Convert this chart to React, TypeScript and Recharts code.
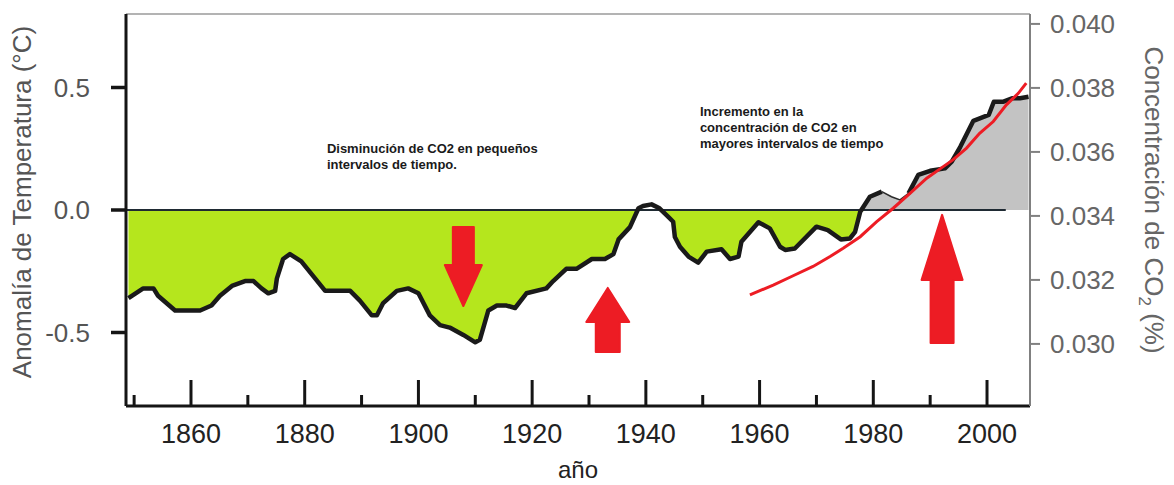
import React from 'react';
import { ComposedChart, Area, Line, XAxis, YAxis, ReferenceLine, ReferenceDot } from 'recharts';

// temperature anomaly curve (°C)
const tempYears = [
  1849.0, 1851.6, 1853.4, 1854.2, 1857.2, 1861.6, 1863.6, 1865.1, 1867.2, 1869.5,
  1871.0, 1872.4, 1873.6, 1874.8, 1875.1, 1876.2, 1877.4, 1879.4, 1881.5, 1883.6,
  1888.0, 1889.7, 1891.8, 1892.7, 1893.8, 1896.2, 1898.2, 1900.0, 1902.0, 1903.8,
  1905.5, 1907.9, 1910.0, 1910.8, 1912.3, 1913.8, 1915.5, 1917.0, 1919.0, 1922.5,
  1923.7, 1926.0, 1927.8, 1930.5, 1932.8, 1934.3, 1935.2, 1937.2, 1938.7, 1939.5,
  1941.0, 1942.4, 1943.9, 1944.8, 1945.1, 1946.0, 1947.5, 1949.2, 1950.7, 1953.3,
  1954.8, 1956.3, 1956.8, 1959.8, 1961.8, 1963.6, 1964.5, 1966.2, 1970.0, 1972.0,
  1974.3, 1975.9, 1976.8, 1977.7, 1979.4, 1981.5, 1983.2, 1984.7, 1986.2, 1987.9,
  1990.0, 1992.6, 1993.8, 1995.3, 1997.6, 2000.3, 2001.2, 2002.9, 2004.4, 2005.8,
  2007.3,
];
const tempValues = [
  -0.36, -0.32, -0.32, -0.35, -0.41, -0.41, -0.39, -0.35, -0.31, -0.29,
  -0.29, -0.32, -0.34, -0.33, -0.28, -0.2, -0.18, -0.21, -0.27, -0.33,
  -0.33, -0.37, -0.43, -0.43, -0.38, -0.33, -0.32, -0.34, -0.43, -0.47,
  -0.48, -0.51, -0.54, -0.53, -0.41, -0.39, -0.39, -0.4, -0.34, -0.32,
  -0.29, -0.24, -0.24, -0.2, -0.2, -0.18, -0.12, -0.07, 0.007, 0.016,
  0.023, 0.007, -0.027, -0.048, -0.11, -0.15, -0.19, -0.215, -0.17, -0.16,
  -0.2, -0.19, -0.13, -0.05, -0.075, -0.15, -0.163, -0.157, -0.068, -0.082,
  -0.12, -0.116, -0.089, -0.007, 0.054, 0.075, 0.054, 0.041, 0.068, 0.143,
  0.16, 0.17, 0.197, 0.258, 0.364, 0.388, 0.442, 0.442, 0.456, 0.456,
  0.462,
];

// CO2 concentration (%)
const co2Years = [
  1958.3, 1962.4, 1965.9, 1969.4, 1972.4, 1974.7, 1977.7, 1980.6, 1983.5, 1986.5,
  1989.4, 1992.3, 1994.0, 1996.4, 1998.7, 2001.1, 2003.4, 2005.5, 2006.9,
];
const co2Values = [
  0.03153, 0.03184, 0.03213, 0.03242, 0.03273, 0.03299, 0.03335, 0.03382, 0.03424, 0.03471,
  0.03518, 0.03554, 0.03575, 0.03612, 0.03658, 0.03695, 0.03747, 0.03783, 0.03815,
];

const yearTicks = [1850, 1860, 1870, 1880, 1890, 1900, 1910, 1920, 1930, 1940, 1950, 1960, 1970, 1980, 1990, 2000];
const tempTicks = [-0.5, 0, 0.5];
const co2Ticks = [0.03, 0.032, 0.034, 0.036, 0.038, 0.04];

// red arrows: tip position (year, anomaly) and direction
const arrowYears = [1907.9, 1933.3, 1992.1];
const arrowValues = [-0.392, -0.318, -0.02];
const arrowDirs = ['down', 'up', 'up'];

const noteYears = [1883.9, 1949.5];
const noteValues = [0.233, 0.384];
const noteLines = [
  ['Disminución de CO2 en pequeños', 'intervalos de tiempo.'],
  ['Incremento en la', 'concentración de CO2 en', 'mayores intervalos de tiempo'],
];

const FONT = '"Liberation Sans", Arial, sans-serif';
const RED = '#ed1c24';

// the curve is drawn thin between these years in the original
const thinFrom = 1981.5;
const thinTo = 1986.2;

const tempData = tempYears.map((year, i) => ({
  year,
  t: tempValues[i],
  thick: year > thinFrom && year < thinTo ? null : tempValues[i],
  neg: Math.min(tempValues[i], 0),
  pos: Math.max(tempValues[i], 0),
}));
const warmData = tempData.filter((d) => d.year >= 1977.7);
const thinData = tempData.filter((d) => d.year >= thinFrom && d.year <= thinTo);
const co2Data = co2Years.map((year, i) => ({ year, c: co2Values[i] }));

// sizes in px for each arrow: [length, head length, head width, shaft width]
const arrowSizes = [
  [79, 41, 37, 21],
  [64, 34, 43, 24],
  [128, 65, 41, 23],
];

const makeArrow = (i: number) => (props: any) => {
  const { cx, cy } = props;
  const [len, head, hw, sw] = arrowSizes[i];
  const s = arrowDirs[i] === 'down' ? -1 : 1;
  const pts = [
    [cx, cy],
    [cx + hw / 2, cy + s * head],
    [cx + sw / 2, cy + s * head],
    [cx + sw / 2, cy + s * len],
    [cx - sw / 2, cy + s * len],
    [cx - sw / 2, cy + s * head],
    [cx - hw / 2, cy + s * head],
  ];
  return (
    <polygon
      points={pts.map((p) => p.join(',')).join(' ')}
      fill={RED}
      stroke={RED}
      strokeWidth={2}
      strokeLinejoin="round"
    />
  );
};

const makeNote = (i: number) => (props: any) => {
  const { cx, cy } = props;
  return (
    <text x={cx} y={cy} fontFamily={FONT} fontSize={13} fontWeight="bold" fill="#1a1a1a">
      {noteLines[i].map((line, j) => (
        <tspan key={j} x={cx} dy={j === 0 ? 0 : 16}>
          {line}
        </tspan>
      ))}
    </text>
  );
};

const YearTick = (props: any) => {
  const { x, y, payload } = props;
  const v = payload.value;
  const major = v % 20 === 0;
  return (
    <g>
      <line x1={x} x2={x} y1={y} y2={y - (major ? 26 : 11)} stroke="#151515" strokeWidth={3} />
      {major && (
        <text x={x} y={y + 37} textAnchor="middle" fontFamily={FONT} fontSize={27} fill="#222">
          {v}
        </text>
      )}
    </g>
  );
};

const LeftTitle = (props: any) => {
  const { viewBox } = props;
  const x = viewBox.x + 31;
  const y = viewBox.y + viewBox.height / 2 - 8;
  return (
    <text x={x} y={y} transform={`rotate(-90, ${x}, ${y})`} textAnchor="middle" fontFamily={FONT} fontSize={26} fill="#555">
      Anomalía de Temperatura (°C)
    </text>
  );
};

const RightTitle = (props: any) => {
  const { viewBox } = props;
  const x = viewBox.x + 115;
  const y = viewBox.y + viewBox.height / 2 - 10;
  return (
    <text x={x} y={y} transform={`rotate(90, ${x}, ${y})`} textAnchor="middle" fontFamily={FONT} fontSize={26} fill="#666">
      Concentración de CO
      <tspan fontSize={17} dy={6}>2</tspan>
      <tspan dy={-6}> (%)</tspan>
    </text>
  );
};

const BottomTitle = (props: any) => {
  const { viewBox } = props;
  return (
    <text x={viewBox.x + 452} y={viewBox.y + 72} textAnchor="middle" fontFamily={FONT} fontSize={24} fill="#222">
      año
    </text>
  );
};

export default function App() {
  return (
    <div style={{ position: 'absolute', left: 0, top: 0, width: 1174, height: 485, background: '#fff' }}>
      <ComposedChart width={1174} height={485} margin={{ top: 14, right: 0, bottom: 0, left: 0 }}>
        <XAxis
          dataKey="year"
          type="number"
          domain={[1848.57, 2007.56]}
          allowDataOverflow
          ticks={yearTicks}
          interval={0}
          height={79}
          tickSize={0}
          tickMargin={0}
          tickLine={false}
          tick={<YearTick />}
          axisLine={{ stroke: '#151515', strokeWidth: 3 }}
          label={<BottomTitle />}
        />
        <YAxis
          yAxisId="t"
          domain={[-0.8, 0.8]}
          allowDataOverflow
          ticks={tempTicks}
          width={126}
          tickSize={15}
          tickMargin={21}
          tickFormatter={(v: number) => v.toFixed(1)}
          tick={{ fontFamily: FONT, fontSize: 26, fill: '#555' }}
          tickLine={{ stroke: '#151515', strokeWidth: 3.5 }}
          axisLine={{ stroke: '#151515', strokeWidth: 3 }}
          label={<LeftTitle />}
        />
        <YAxis
          yAxisId="c"
          orientation="right"
          domain={[0.02806, 0.04031]}
          allowDataOverflow
          ticks={co2Ticks}
          width={144}
          tickSize={10}
          tickMargin={10}
          tickFormatter={(v: number) => v.toFixed(3)}
          tick={{ fontFamily: FONT, fontSize: 26, fill: '#666', textAnchor: 'start' }}
          tickLine={{ stroke: '#808080', strokeWidth: 2 }}
          axisLine={{ stroke: '#808080', strokeWidth: 2 }}
          label={<RightTitle />}
        />
        <ReferenceLine yAxisId="t" y={0.8} stroke="#9a9a9a" strokeWidth={1.5} />
        <Area
          yAxisId="t"
          data={tempData}
          dataKey="neg"
          type="linear"
          baseValue={0}
          fill="#b5e61d"
          fillOpacity={1}
          stroke="none"
          isAnimationActive={false}
        />
        <Area
          yAxisId="t"
          data={warmData}
          dataKey="pos"
          type="linear"
          baseValue={0}
          fill="#c3c3c3"
          fillOpacity={1}
          stroke="none"
          isAnimationActive={false}
        />
        <ReferenceLine
          yAxisId="t"
          segment={[{ x: 1848.57, y: 0 }, { x: 2003.3, y: 0 }]}
          stroke="#1f2a33"
          strokeWidth={2}
        />
        <Line
          yAxisId="t"
          data={tempData}
          dataKey="thick"
          type="linear"
          stroke="#1a1a1a"
          strokeWidth={4.5}
          strokeLinejoin="round"
          dot={false}
          isAnimationActive={false}
        />
        <Line
          yAxisId="t"
          data={thinData}
          dataKey="t"
          type="linear"
          stroke="#2a2a2a"
          strokeWidth={1.6}
          dot={false}
          isAnimationActive={false}
        />
        <Line
          yAxisId="c"
          data={co2Data}
          dataKey="c"
          type="linear"
          stroke={RED}
          strokeWidth={3}
          dot={false}
          isAnimationActive={false}
        />
        {arrowYears.map((yr, i) => (
          <ReferenceDot key={`a${i}`} yAxisId="t" x={yr} y={arrowValues[i]} r={1} shape={makeArrow(i)} />
        ))}
        {noteYears.map((yr, i) => (
          <ReferenceDot key={`n${i}`} yAxisId="t" x={yr} y={noteValues[i]} r={1} shape={makeNote(i)} />
        ))}
      </ComposedChart>
    </div>
  );
}
